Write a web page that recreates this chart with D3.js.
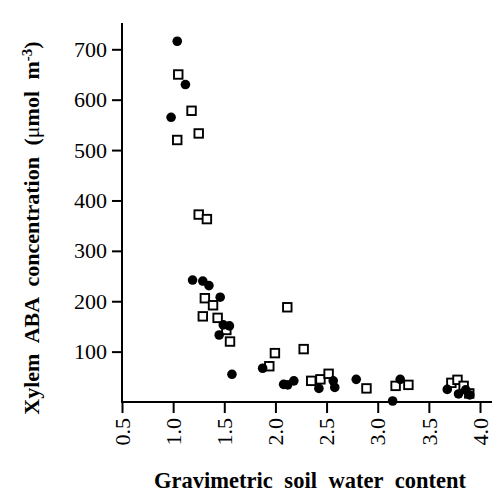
<!DOCTYPE html>
<html lang="en">
<head>
<meta charset="UTF-8">
<title>Xylem ABA vs soil water</title>
<style>
  body { margin: 0; background: #fff; }
  svg text { font-family: "Liberation Serif", "DejaVu Serif", serif; fill: #000; }
</style>
</head>
<body>
<svg id="chart" width="494" height="494"></svg>
<script src="https://d3js.org/d3.v7.min.js"></script>
<script>
    // filled circles
    var circleX = [1.04, 1.12, 0.98, 1.19, 1.29, 1.35, 1.46, 1.49, 1.55, 1.45, 1.575, 1.875,
                   2.08, 2.12, 2.18, 2.425, 2.565, 2.58, 2.79, 3.146, 3.22, 3.68, 3.79, 3.86, 3.90];
    var circleY = [716, 630, 565, 242, 240, 231, 208, 153, 151, 133, 55, 67,
                   35, 34, 42, 27, 42, 29, 45, 2, 45, 25, 16, 24, 14];

    // open squares
    var squareX = [1.05, 1.18, 1.25, 1.04, 1.25, 1.33, 1.31, 1.39, 1.29, 1.435, 1.52, 1.556,
                   1.995, 1.94, 2.116, 2.276, 2.35, 2.44, 2.52, 2.89, 3.175, 3.30, 3.72, 3.78, 3.84, 3.895];
    var squareY = [650, 578, 533, 520, 372, 363, 206, 192, 170, 167, 143, 120,
                   97, 71, 188, 105, 42, 45, 56, 27, 32, 34, 38, 44, 32, 17];

    var xTicks = [0.5, 1.0, 1.5, 2.0, 2.5, 3.0, 3.5, 4.0];
    var yTicks = [100, 200, 300, 400, 500, 600, 700];

    var svg = d3.select("#chart");

    var x = d3.scaleLinear().domain([0.5, 4.0]).range([122, 480]);
    var y = d3.scaleLinear().domain([0, 700]).range([402, 49.3]);

    // axes
    var xAxis = svg.append("g")
        .attr("transform", "translate(0," + y(0) + ")")
        .call(d3.axisBottom(x).tickValues(xTicks).tickFormat(d3.format(".1f")).tickSize(11).tickSizeOuter(0));
    xAxis.select(".domain").remove();
    xAxis.selectAll(".tick line").attr("stroke-width", 2);
    xAxis.selectAll(".tick text")
        .attr("transform", "rotate(-90)")
        .attr("text-anchor", "end")
        .attr("x", -16)
        .attr("y", 0)
        .attr("dy", "0.33em")
        .style("font-size", "22px");

    var yAxis = svg.append("g")
        .attr("transform", "translate(" + x(0.5) + ",0)")
        .call(d3.axisLeft(y).tickValues(yTicks).tickSize(10).tickPadding(5).tickSizeOuter(0));
    yAxis.select(".domain").remove();
    yAxis.selectAll(".tick line").attr("stroke-width", 2);
    yAxis.selectAll(".tick text").style("font-size", "22px");

    // axis lines, a bit longer than the ticks
    svg.append("line")
        .attr("x1", x(0.5) - 1).attr("x2", x(4.0) + 12)
        .attr("y1", y(0)).attr("y2", y(0))
        .attr("stroke", "#000").attr("stroke-width", 2);
    svg.append("line")
        .attr("x1", x(0.5)).attr("x2", x(0.5))
        .attr("y1", y(0)).attr("y2", y(752))
        .attr("stroke", "#000").attr("stroke-width", 2);

    // squares first, circles on top
    var side = 8.5;
    svg.append("g").selectAll("rect")
        .data(d3.range(squareX.length))
        .enter().append("rect")
        .attr("x", function(i) { return x(squareX[i]) - side / 2; })
        .attr("y", function(i) { return y(squareY[i]) - side / 2; })
        .attr("width", side).attr("height", side)
        .attr("fill", "#fff").attr("stroke", "#000").attr("stroke-width", 1.9);

    svg.append("g").selectAll("circle")
        .data(d3.range(circleX.length))
        .enter().append("circle")
        .attr("cx", function(i) { return x(circleX[i]); })
        .attr("cy", function(i) { return y(circleY[i]); })
        .attr("r", 4.8)
        .attr("fill", "#000");

    // titles
    var yt = svg.append("text")
        .attr("transform", "translate(39,228) rotate(-90)")
        .attr("text-anchor", "middle")
        .style("font-size", "22px")
        .style("font-weight", "bold")
        .style("word-spacing", "6px");
    yt.append("tspan").text("Xylem ABA concentration (");
    yt.append("tspan").style("font-weight", "normal").text("\u03bc");
    yt.append("tspan").text("mol m");
    yt.append("tspan").attr("dy", "-0.45em").style("font-size", "15px").text("-3");
    yt.append("tspan").attr("dy", "0.3em").text(")");

    svg.append("text")
        .attr("x", 310).attr("y", 488)
        .attr("text-anchor", "middle")
        .style("font-size", "22.5px")
        .style("font-weight", "bold")
        .style("word-spacing", "6px")
        .text("Gravimetric soil water content");
</script>
</body>
</html>
